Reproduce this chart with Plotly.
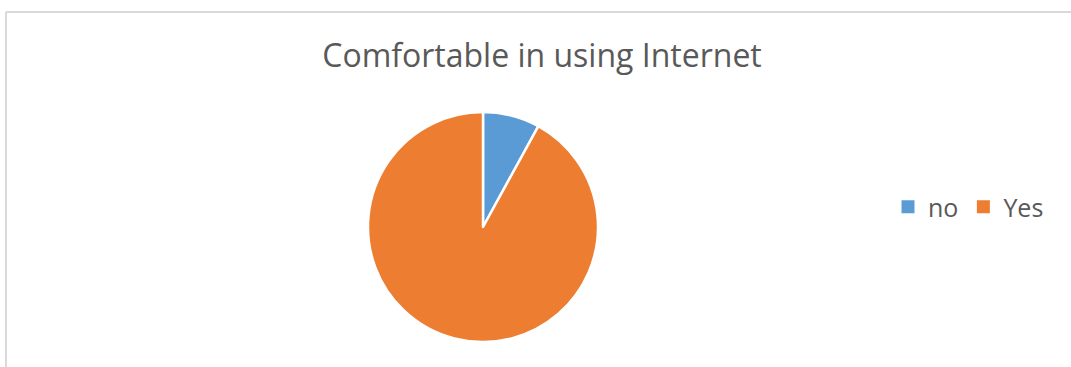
import plotly.graph_objects as go

# Survey answers
labels = ["no", "Yes"]
shares = [8, 92]
colors = ["#5b9bd5", "#ed7d31"]

title_text = "Comfortable in using Internet"

W, H = 1071, 367
cx, cy, r = 483, 227, 115

fig = go.Figure()

fig.add_trace(
    go.Pie(
        labels=labels,
        values=shares,
        sort=False,
        direction="clockwise",
        rotation=0,
        textinfo="none",
        hoverinfo="label+percent",
        showlegend=False,
        marker=dict(colors=colors, line=dict(color="white", width=2.5)),
        domain=dict(
            x=[(cx - r) / W, (cx + r) / W],
            y=[(H - cy - r) / H, (H - cy + r) / H],
        ),
    )
)

# Legend entries with solid square keys
for name, color in zip(labels, colors):
    fig.add_trace(
        go.Scatter(
            x=[None], y=[None], mode="markers", name=name,
            marker=dict(symbol="square", size=13, color=color),
            hoverinfo="skip",
        )
    )

fig.update_layout(
    width=W,
    height=H,
    margin=dict(l=0, r=0, t=0, b=0),
    paper_bgcolor="white",
    plot_bgcolor="white",
    xaxis=dict(visible=False),
    yaxis=dict(visible=False),
    font=dict(family="Open Sans, Calibri, sans-serif", color="#595959"),
    title=dict(
        text=title_text,
        x=542 / W,
        xanchor="center",
        y=1 - 56 / H,
        yanchor="middle",
        font=dict(size=32, color="#595959"),
    ),
    legend=dict(
        orientation="h",
        x=888 / W,
        xanchor="left",
        y=1 - 207 / H,
        yanchor="middle",
        font=dict(size=25, color="#595959"),
        itemwidth=30,
    ),
    shapes=[
        dict(type="line", xref="paper", yref="paper",
             x0=6 / W, x1=1.0, y0=1 - 12 / H, y1=1 - 12 / H,
             line=dict(color="#d9d9d9", width=2)),
        dict(type="line", xref="paper", yref="paper",
             x0=6 / W, x1=6 / W, y0=1 - 12 / H, y1=0,
             line=dict(color="#d9d9d9", width=2)),
    ],
)

fig.write_html("out.html")
